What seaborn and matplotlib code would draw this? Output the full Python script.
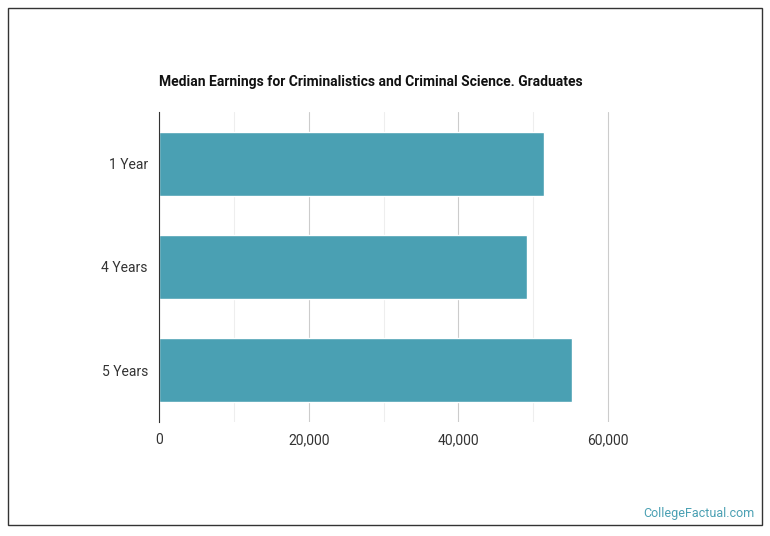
import matplotlib
matplotlib.use("Agg")
import matplotlib.pyplot as plt
import seaborn as sns
import pandas as pd
from matplotlib.patches import Rectangle

# Data
periods = ["1 Year", "4 Years", "5 Years"]
earnings = [51450, 49200, 55200]

df = pd.DataFrame({"period": periods, "earnings": earnings})

sns.set_style("white")
plt.rcParams['font.family'] = ['Roboto', 'DejaVu Sans']

fig = plt.figure(figsize=(7.7, 5.36), dpi=100)
ax = fig.add_axes([159/770, 1-422/536, (683-159)/770, (422-112)/536])

sns.barplot(data=df, x="earnings", y="period", color="#4aa0b3", width=0.62, saturation=1, ax=ax)

ax.set_xlim(0, 70000)
ax.set_xticks([0, 20000, 40000, 60000])
ax.set_xticklabels(["0", "20,000", "40,000", "60,000"])
ax.set_xticks([10000, 30000, 50000], minor=True)
ax.grid(axis="x", which="major", color="#cccccc", linewidth=0.8)
ax.grid(axis="x", which="minor", color="#eeeeee", linewidth=0.8)
ax.set_axisbelow(True)
for s in ["top", "right", "bottom"]:
    ax.spines[s].set_visible(False)
ax.spines["left"].set_color("#333333")
ax.tick_params(axis="both", length=0, labelsize=10, colors="#333333", pad=8)
ax.tick_params(axis="x", which="minor", length=0)
ax.set_xlabel("")
ax.set_ylabel("")

fig.text(159/770, 1-82/536, "Median Earnings for Criminalistics and Criminal Science. Graduates",
         fontsize=10, fontweight="bold", va="center", ha="left", color="#111111")
fig.text(755/770, 1-513/536, "CollegeFactual.com", fontsize=9, color="#4aa0b3",
         ha="right", va="center")
fig.patches.append(Rectangle((8/770, 1-525/536), 754/770, 517/536, transform=fig.transFigure,
                             fill=False, edgecolor="#333333", linewidth=1))

fig.savefig("out.png", dpi=100)
